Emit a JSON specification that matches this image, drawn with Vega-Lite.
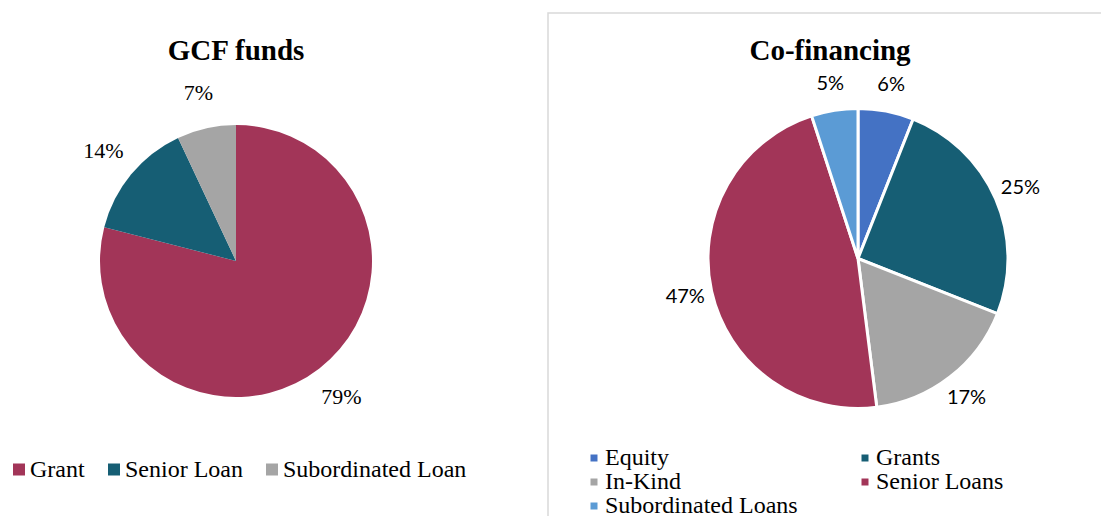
{
  "$schema": "https://vega.github.io/schema/vega-lite/v6.json",
  "autosize": {"type": "pad"},
  "padding": {"left": 0, "top": 12, "right": 0, "bottom": 0},
  "background": "white",
  "spacing": 76,
  "bounds": "flush",
  "config": {"view": {"stroke": null}},
  "hconcat": [
    {
      "width": 472,
      "height": 496,
      "view": {"stroke": null},
      "title": {"text": "GCF funds", "font": "Liberation Serif", "fontSize": 29, "fontWeight": "bold", "color": "black", "anchor": "middle", "baseline": "alphabetic", "offset": -76},
      "data": {"values": [
        {"type": "Grant", "share": 0.79},
        {"type": "Senior Loan", "share": 0.14},
        {"type": "Subordinated Loan", "share": 0.07}
      ]},
      "encoding": {"theta": {"field": "share", "type": "quantitative", "stack": true}},
      "layer": [
        {
          "mark": {"type": "arc", "outerRadius": 136},
          "encoding": {
            "color": {
              "field": "type", "type": "nominal",
              "scale": {"domain": ["Grant", "Senior Loan", "Subordinated Loan"], "range": ["#A23558", "#165E74", "#A5A5A5"]},
              "legend": {"orient": "none", "legendX": 7, "legendY": 444.5, "direction": "horizontal", "title": null, "symbolType": "square", "symbolSize": 144, "symbolStrokeWidth": 0, "labelFont": "Liberation Serif", "labelFontSize": 24, "labelColor": "black", "labelOffset": -1, "columnPadding": 17, "padding": 0, "labelLimit": 400}
            }
          }
        },
        {
          "mark": {"type": "text", "radius": 172, "font": "Liberation Serif", "fontSize": 22, "color": "black"},
          "encoding": {
            "detail": {"field": "type", "type": "nominal"},
            "order": {"field": "type", "type": "ordinal", "sort": "ascending"},
            "text": {"field": "share", "type": "quantitative", "format": ".0%"}
          }
        }
      ]
    },
    {
      "width": 620,
      "height": 540,
      "view": {"stroke": "#D9D9D9", "strokeWidth": 1.5},
      "title": {"text": "Co-financing", "font": "Liberation Serif", "fontSize": 29, "fontWeight": "bold", "color": "black", "anchor": "middle", "baseline": "alphabetic", "offset": -76, "dx": -28},
      "data": {"values": [
        {"type": "Equity", "share": 0.06},
        {"type": "Grants", "share": 0.25},
        {"type": "In-Kind", "share": 0.17},
        {"type": "Senior Loans", "share": 0.47},
        {"type": "Subordinated Loans", "share": 0.05}
      ]},
      "encoding": {"theta": {"field": "share", "type": "quantitative", "stack": true}},
      "layer": [
        {
          "mark": {"type": "arc", "outerRadius": 150, "stroke": "white", "strokeWidth": 3, "yOffset": -24.5},
          "encoding": {
            "color": {
              "field": "type", "type": "nominal",
              "scale": {"domain": ["Equity", "Grants", "In-Kind", "Senior Loans", "Subordinated Loans"], "range": ["#4472C4", "#165E74", "#A5A5A5", "#A23558", "#5B9BD5"]},
              "legend": {"orient": "none", "legendX": 34, "legendY": 433, "columns": 2, "direction": "horizontal", "title": null, "symbolType": "square", "symbolSize": 49, "symbolStrokeWidth": 0, "labelFont": "Liberation Serif", "labelFontSize": 24, "labelColor": "black", "labelOffset": -1, "columnPadding": 55, "rowPadding": 0, "padding": 0, "labelLimit": 400}
            }
          }
        },
        {
          "mark": {"type": "text", "radius": 177, "font": "Lato", "fontSize": 20, "color": "black", "yOffset": -24.5},
          "encoding": {
            "detail": {"field": "type", "type": "nominal"},
            "order": {"field": "type", "type": "ordinal", "sort": "ascending"},
            "text": {"field": "share", "type": "quantitative", "format": ".0%"}
          }
        }
      ]
    }
  ],
  "resolve": {"scale": {"color": "independent", "theta": "independent"}, "legend": {"color": "independent"}}
}
